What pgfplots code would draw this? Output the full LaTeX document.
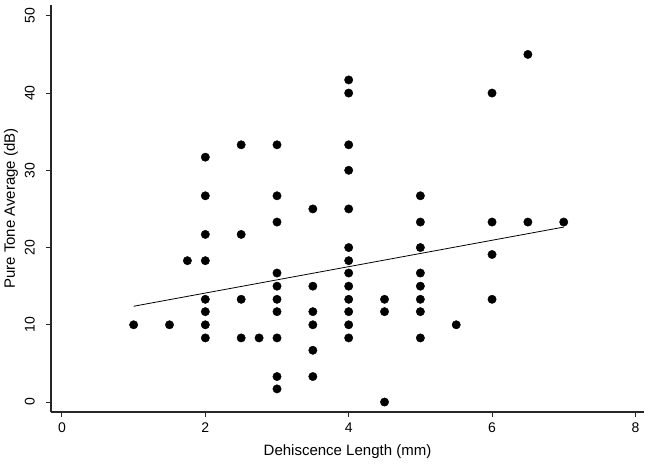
\documentclass[border=0pt]{standalone}
\usepackage{pgfplots}
\pgfplotsset{compat=1.18}
\usepackage{fontspec}
\setmainfont{Liberation Sans}
\begin{document}
\begin{tikzpicture}
\begin{axis}[
  scale only axis, width=593pt, height=407pt,
  xmin=-0.153, xmax=8.12, ymin=-1.29, ymax=51.4,
  axis lines*=left,
  axis line style={line width=1.3pt, -, black!85},
  xtick={0,2,4,6,8}, ytick={0,10,20,30,40,50},
  tick align=outside, major tick length=4.5pt,
  tick style={line width=1pt, black!85},
  /pgf/number format/assume math mode=true,
  ticklabel style={font=\fontsize{14}{16}\selectfont},
  label style={font=\fontsize{15}{17}\selectfont},
  yticklabel style={rotate=90, anchor=south, inner ysep=11.5pt},
  xticklabel style={inner ysep=6.5pt},
  xlabel={Dehiscence Length (mm)},
  ylabel={Pure Tone Average (dB)},
  xlabel style={at={([yshift=-43pt]axis description cs:0.5,0)}, anchor=base},
  ylabel style={at={([xshift=-36pt]axis description cs:0,0.5)}, anchor=base},
  clip=false,
]
\addplot[only marks, mark=*, mark size=4.2pt, black] table {
x y
1 10
1.5 10
1.75 18.3
2 31.7
2 26.7
2 21.7
2 18.3
2 13.3
2 11.7
2 10
2 8.3
2.5 33.3
2.5 21.7
2.5 13.3
2.5 8.3
2.75 8.3
3 33.3
3 26.7
3 23.3
3 16.7
3 15
3 13.3
3 11.7
3 8.3
3 3.3
3 1.7
3.5 25
3.5 15
3.5 11.7
3.5 10
3.5 6.7
3.5 3.3
4 41.7
4 40
4 33.3
4 30
4 25
4 20
4 18.3
4 16.7
4 15
4 13.3
4 11.7
4 10
4 8.3
4.5 13.3
4.5 11.7
4.5 0
5 26.7
5 23.3
5 20
5 16.7
5 15
5 13.3
5 11.7
5 8.3
5.5 10
6 40
6 23.3
6 19.1
6 13.3
6.5 45
6.5 23.3
7 23.3
};
\addplot[black, line width=0.8pt] table {
x y
1 12.4
7 22.65
};
\end{axis}
\pgfresetboundingbox
\path (-51pt,-51pt) rectangle (599pt,412pt);
\end{tikzpicture}
\end{document}
